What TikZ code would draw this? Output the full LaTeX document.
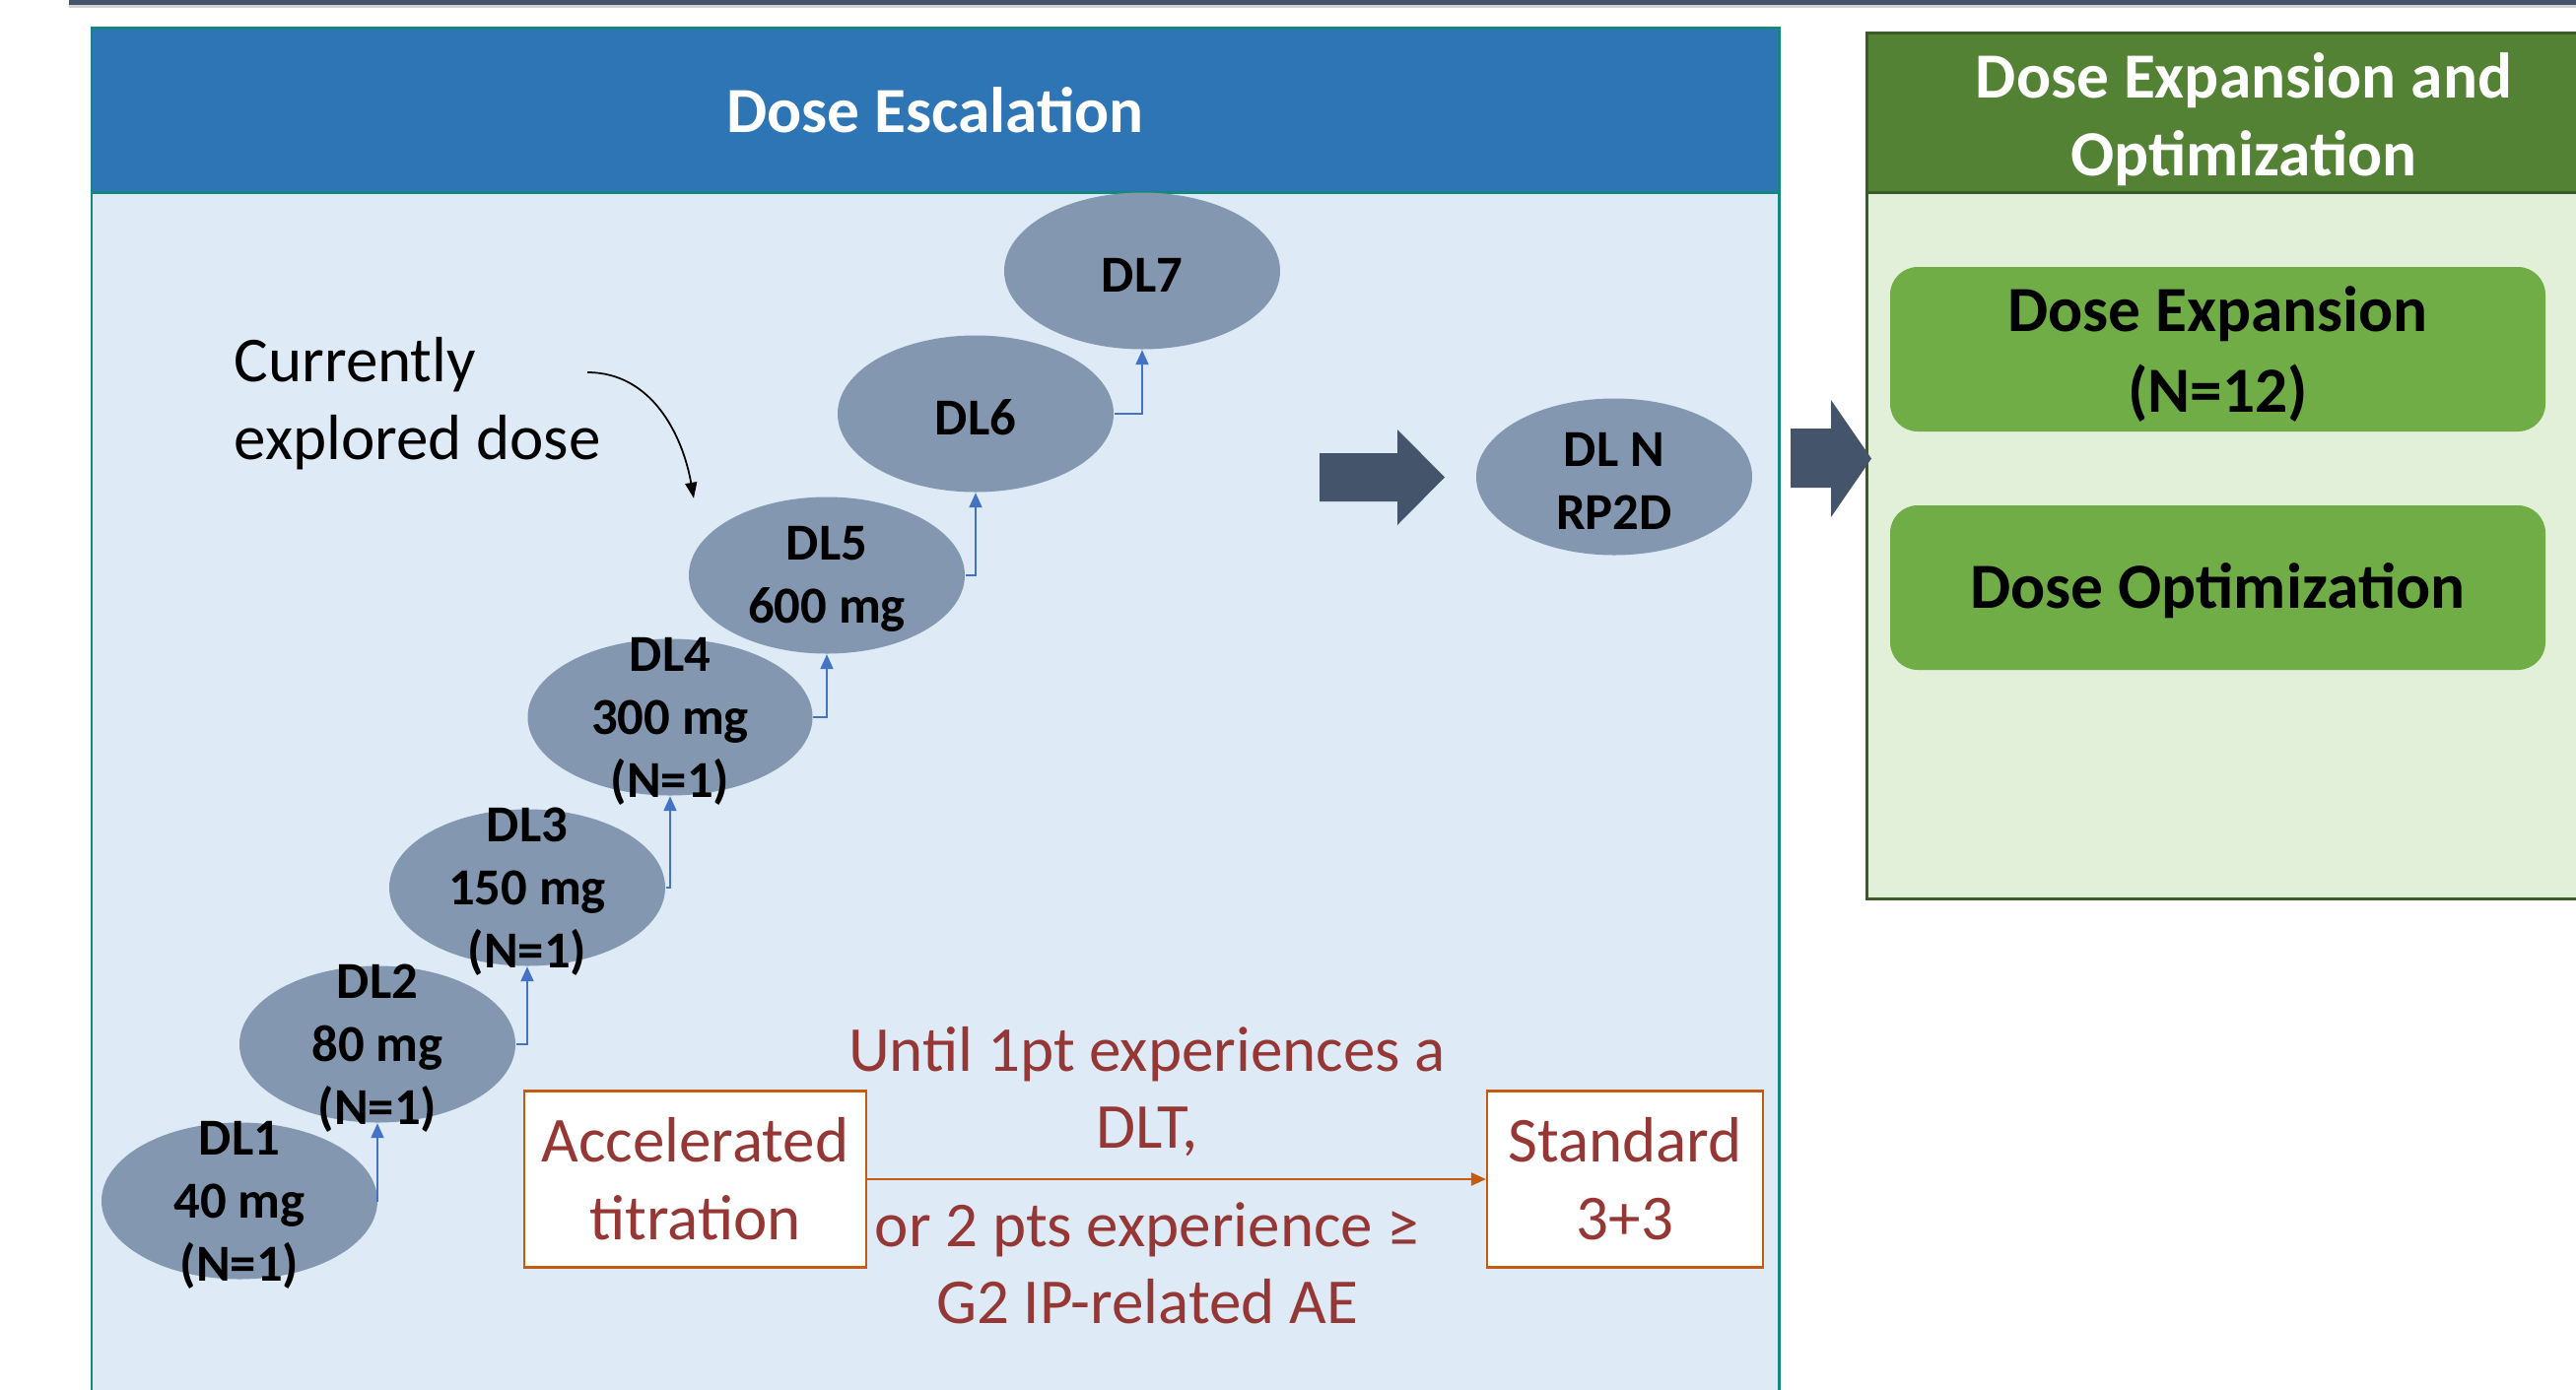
\documentclass[tikz,border=0pt]{standalone}
\usepackage{fontspec}
\setmainfont{Carlito}
\usetikzlibrary{positioning,arrows.meta,shapes.geometric}
\definecolor{EscBlue}{HTML}{2E75B6}
\definecolor{EscFill}{HTML}{DEEBF7}
\definecolor{EscEdge}{HTML}{158680}
\definecolor{DLGray}{HTML}{8497B0}
\definecolor{Slate}{HTML}{44546A}
\definecolor{ExpGreen}{HTML}{548235}
\definecolor{ExpEdge}{HTML}{3A5A28}
\definecolor{ExpFill}{HTML}{E2F0D9}
\definecolor{BoxGreen}{HTML}{70AD47}
\definecolor{OrEdge}{HTML}{C55A11}
\definecolor{RedText}{HTML}{953735}
\definecolor{StepBlue}{HTML}{4472C4}

\begin{document}
\begin{tikzpicture}[
      dl/.style={ellipse, fill=DLGray, minimum width=28mm, minimum height=15.9mm,
                 inner sep=0pt},
      dltxt/.style={font=\bfseries\fontsize{15}{18.2}\selectfont, align=center,
                    inner sep=0pt, yshift=-0.4mm},
      hdrbox/.style={rectangle, inner sep=0pt, line width=0.85pt},
      hdr/.style={font=\bfseries\fontsize{18.6}{22.5}\selectfont, text=white,
                  align=center, inner sep=0pt},
      gbox/.style={rectangle, rounded corners=2.8mm, fill=BoxGreen,
                   minimum width=66.5mm, minimum height=16.7mm},
      gtxt/.style={font=\bfseries\fontsize{18.6}{23.3}\selectfont, align=center,
                   inner sep=0pt},
      rbox/.style={rectangle, draw=OrEdge, line width=0.6pt, fill=white,
                   minimum height=17.9mm, text=RedText, align=center,
                   font=\fontsize{18.5}{22.5}\selectfont, inner sep=1pt},
      rtxt/.style={font=\fontsize{18.5}{22.2}\selectfont, text=RedText,
                   align=center, inner sep=0pt},
      up/.style={-{Triangle[length=1.5mm,width=1.3mm]}, draw=StepBlue,
                 line width=0.55pt},
      orarr/.style={-{Triangle[length=1.5mm,width=1.3mm]}, draw=OrEdge,
                    line width=0.6pt},
      curarr/.style={-{Triangle[length=1.6mm,width=1.2mm]}, line width=0.5pt},
    ]
      \useasboundingbox (0,0) rectangle (26.14,-14.11);
      \fill[Slate] (0.70,0) rectangle (26.14,-0.05);
      \fill[gray!35] (0.70,-0.05) rectangle (26.14,-0.08);
      % escalation panel
      \draw[EscEdge, line width=0.85pt, fill=EscFill] (0.93,-1.95) rectangle (18.05,-14.4);
      \node[hdrbox, draw=EscEdge, fill=EscBlue, minimum width=171.2mm, minimum height=16.7mm]
            (esc) at (9.49,-1.115) {};
      \node[hdr] (esct) at (esc) {Dose Escalation};
      % expansion panel
      \draw[ExpEdge, line width=0.85pt, fill=ExpFill] (18.94,-1.95) rectangle (26.6,-9.12);
      \node[hdrbox, draw=ExpEdge, fill=ExpGreen, minimum width=76.6mm, minimum height=16.2mm]
            (exp) at (22.77,-1.14) {};
      \node[hdr] (expt) at ([yshift=-0.7mm]exp.center) {Dose Expansion and\\Optimization};
      \node[gbox] (expn) at (22.505,-3.545) {};
      \node[gbox] (opt) at (22.505,-5.965) {};
      \node[gtxt] (expnt) at ([yshift=-0.5mm]expn.center) {Dose Expansion\\(N=12)};
      \node[gtxt] (optt) at ([yshift=-0.3mm]opt.center) {Dose Optimization};
      % dose levels
      \node[dl] (d1) at (2.43,-12.19) {};
      \node[dl] (d2) at (3.83,-10.60) {};
      \node[dl] (d3) at (5.35,-9.01) {};
      \node[dl, minimum width=28.9mm] (d4) at (6.80,-7.28) {};
      \node[dl] (d5) at (8.39,-5.84) {};
      \node[dl] (d6) at (9.90,-4.20) {};
      \node[dl] (d7) at (11.59,-2.75) {};
      \node[dl] (dn) at (16.38,-4.84) {};
      \node[dltxt] (t1) at (d1) {DL1\\40 mg\\(N=1)};
      \node[dltxt] (t2) at (d2) {DL2\\80 mg\\(N=1)};
      \node[dltxt] (t3) at (d3) {DL3\\150 mg\\(N=1)};
      \node[dltxt] (t4) at (d4) {DL4\\300 mg\\(N=1)};
      \node[dltxt] (t5) at (d5) {DL5\\600 mg};
      \node[dltxt] (t6) at (d6) {DL6};
      \node[dltxt] (t7) at (d7) {DL7};
      \node[dltxt] (tn) at (dn) {DL N\\RP2D};
      \draw[up] (d1.east) -| (d2.south); \draw[up] (d2.east) -| (d3.south);
      \draw[up] (d3.east) -| (d4.south); \draw[up] (d4.east) -| (d5.south);
      \draw[up] (d5.east) -| (d6.south); \draw[up] (d6.east) -| (d7.south);
      \node[anchor=north west, align=left, inner sep=0pt,
            font=\fontsize{18.5}{22.5}\selectfont] (cur) at (2.37,-3.42)
            {Currently\\explored dose};
      \coordinate (curs) at (5.96,-3.78);
      \coordinate (cure) at ([xshift=-13.5mm, yshift=-0.2mm]d5.north);
      \draw[curarr] (curs) to[out=0, in=100] (cure);
      % block arrows
      \fill[Slate] (13.39,-4.60) -- (14.18,-4.60) -- (14.18,-4.36) -- (14.66,-4.845)
            -- (14.18,-5.33) -- (14.18,-5.09) -- (13.39,-5.09) -- cycle;
      \fill[Slate] (18.17,-4.35) -- (18.58,-4.35) -- (18.58,-4.06) -- (18.99,-4.655)
            -- (18.58,-5.25) -- (18.58,-4.95) -- (18.17,-4.95) -- cycle;
      % titration
      \node[rbox, minimum width=34.7mm] (acc) at (7.055,-11.97) {Accelerated\\titration};
      \node[rbox, minimum width=28.0mm] (std) at (16.49,-11.97) {Standard\\3+3};
      \draw[orarr] (acc) --
            node[rtxt, above=2.2mm, xshift=-3mm] {Until 1pt experiences a\\DLT,}
            node[rtxt, below=2.3mm, xshift=-3mm] {or 2 pts experience ≥\\G2 IP-related AE}
            (std);
    \end{tikzpicture}
\end{document}
